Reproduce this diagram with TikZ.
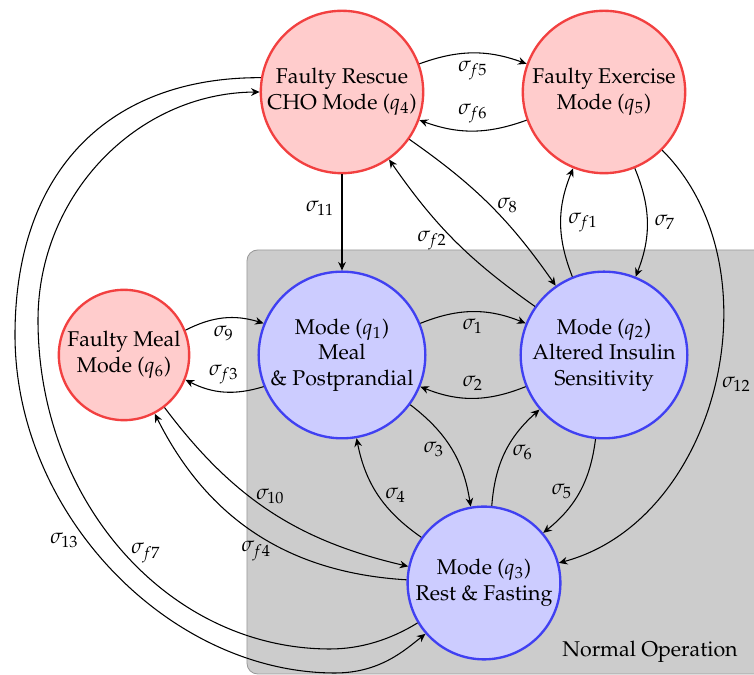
\documentclass[tikz,border=0pt]{standalone}
\usepackage[T1]{fontenc}
\usepackage{mathpazo}
\usetikzlibrary{arrows.meta}

\definecolor{faultEdgeColor}{RGB}{242,64,64}
\definecolor{faultFillColor}{RGB}{255,204,204}
\definecolor{modeEdgeColor}{RGB}{64,64,242}
\definecolor{modeFillColor}{RGB}{204,204,255}

\begin{document}
\begin{tikzpicture}[x=0.468pt, y=0.468pt]
            \tikzset{fault/.style={circle, draw=faultEdgeColor, fill=faultFillColor, line width=1.1pt, align=center, inner sep=1pt},
                     mode/.style={circle, draw=modeEdgeColor, fill=modeFillColor, line width=1.1pt, align=center, inner sep=1pt},
                     tr/.style={-{Stealth[length=4pt, width=3.6pt]}, line width=0.5pt}}

            \useasboundingbox (0,0) rectangle (754,675);

            % normal operation region
            \draw[fill=black!20, draw=black!40, rounded corners=5pt] (247,1) rectangle (775,425);
            \node (normalop) at (650,23) {Normal Operation};

            \node[fault, minimum size=76pt] (q4) at (342,583) {Faulty Rescue\\CHO Mode ($q_4$)};
            \node[fault, minimum size=76pt] (q5) at (604,583) {Faulty Exercise\\Mode ($q_5$)};
            \node[fault, minimum size=61pt] (q6) at (124,320) {Faulty Meal\\Mode ($q_6$)};

            \node[mode, minimum size=78pt] (q1) at (342,320) {Mode ($q_1$)\\Meal\\\& Postprandial};
            \node[mode, minimum size=78pt] (q2) at (604,320) {Mode ($q_2$)\\Altered Insulin\\Sensitivity};
            \node[mode, minimum size=71.5pt] (q3) at (484,92) {Mode ($q_3$)\\Rest \& Fasting};

            \draw[tr] (q4) to[bend left=20] node[below] {$\sigma_{f5}$} (q5);
            \draw[tr] (q5) to[bend left=20] node[above] {$\sigma_{f6}$} (q4);
            \draw[tr] (q4) -- node[left, pos=0.35] {$\sigma_{11}$} (q1);
            \draw[tr] (q4) to[bend left=10] node[right] {$\sigma_{8}$} (q2);
            \draw[tr] (q2) to[bend left=10] node[left] {$\sigma_{f2}$} (q4);
            \draw[tr] (q2) to[bend left=22] node[right] {$\sigma_{f1}$} (q5);
            \draw[tr] (q5) to[bend left=22] node[right] {$\sigma_{7}$} (q2);
            \draw[tr] (q5) to[out=-45, in=15] node[right] {$\sigma_{12}$} (q3);

            \draw[tr] (q6) to[bend left=22] node[below] {$\sigma_{9}$} (q1);
            \draw[tr] (q1) to[bend left=22] node[above] {$\sigma_{f3}$} (q6);
            \draw[tr] (q1) to[bend left=22] node[below] {$\sigma_{1}$} (q2);
            \draw[tr] (q2) to[bend left=22] node[above] {$\sigma_{2}$} (q1);
            \draw[tr] (q1) to[bend left=22] node[left] {$\sigma_{3}$} (q3);
            \draw[tr] (q3) to[bend left=22] node[right] {$\sigma_{4}$} (q1);
            \draw[tr] (q3) to[bend left=22] node[right] {$\sigma_{6}$} (q2);
            \draw[tr] (q2) to[bend left=22] node[left] {$\sigma_{5}$} (q3);
            \draw[tr] (q6) to[bend right=20] node[above] {$\sigma_{10}$} (q3);
            \draw[tr] (q3) to[bend left=30] node[below] {$\sigma_{f4}$} (q6);

            % long arcs round the left side
            \draw[tr] (q4.170) .. controls (110,598) and (15,505) .. (15,340)
                .. controls (15,160) and (170,2) .. (335,2) node[left, pos=0.42] {$\sigma_{13}$}
                .. controls (380,2) and (405,25) .. (q3.221);
            \draw[tr] (q3.211) .. controls (390,35) and (360,26) .. (330,26)
                .. controls (169,26) and (38,173) .. (38,355) node[right, pos=0.5] {$\sigma_{f7}$}
                .. controls (38,480) and (137,582) .. (q4.180);
        \end{tikzpicture}
\end{document}
